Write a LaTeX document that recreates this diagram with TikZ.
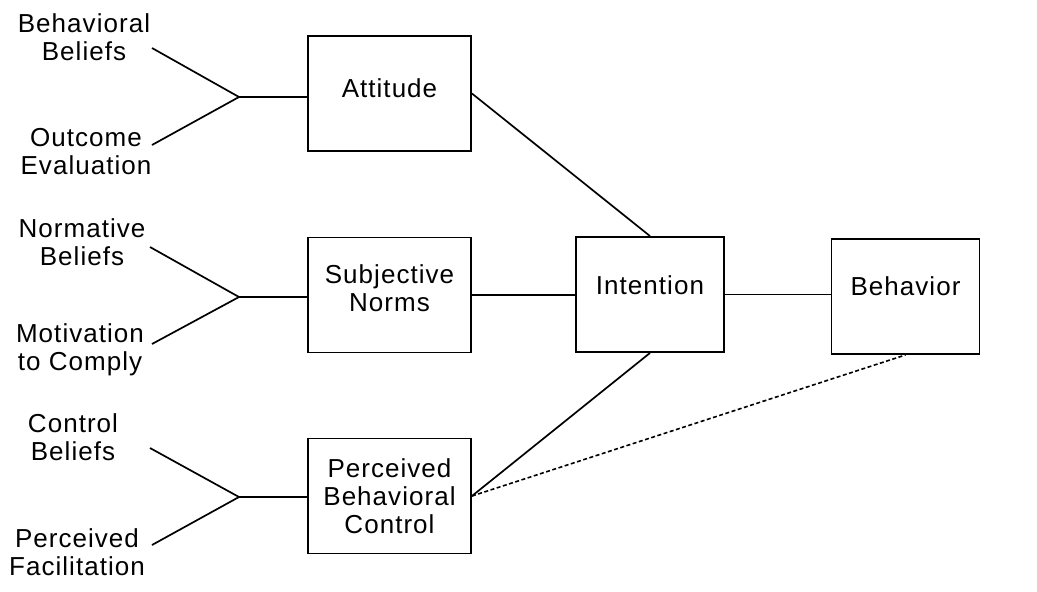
\documentclass[tikz,border=0pt]{standalone}
\usepackage{fontspec}
\setmainfont{Liberation Sans}[LetterSpace=4]

\begin{document}
\begin{tikzpicture}[x=1pt,y=-1pt,
	box/.style={draw, line width=1.9pt, minimum height=115pt, inner sep=0pt},
	wide/.style={box, minimum width=163pt},
	narrow/.style={box, minimum width=148pt},
	lbl/.style={align=center, font=\fontsize{26}{28}\selectfont, inner sep=0pt},
	link/.style={line width=1.7pt},
	dots/.style={line width=1.6pt, dash pattern=on 4pt off 2.5pt}]

	\useasboundingbox (0,0) rectangle (1037,592);

	% boxes
	\node [wide, label={[lbl,yshift=5pt]center:Attitude}] (att) at (389.5,93.5) {};
	\node [wide, label={[lbl,yshift=7pt]center:Subjective\\Norms}] (sn) at (389.5,295) {};
	\node [wide, label={[lbl,yshift=0pt]center:Perceived\\Behavioral\\Control}] (pbc) at (389.5,496) {};
	\node [narrow, label={[lbl,yshift=9pt]center:Intention}] (int) at (650,294.5) {};
	\node [narrow, label={[lbl,yshift=10pt]center:Behavior}] (beh) at (905.5,296.5) {};

	% label
	\node [lbl] (bb) at (84,37) {Behavioral\\Beliefs};
	\node [lbl] (oe) at (86,152) {Outcome\\Evaluation};
	\node [lbl] (nb) at (82,242) {Normative\\Beliefs};
	\node [lbl] (mc) at (80,350) {Motivation\\to Comply};
	\node [lbl] (cb) at (73,437) {Control\\Beliefs};
	\node [lbl] (pf) at (77,552) {Perceived\\Facilitation};

	% ends
	\coordinate (bbe) at (152,48);
	\coordinate (oee) at (152,145);
	\coordinate (nbe) at (150,247);
	\coordinate (mce) at (152,344);
	\coordinate (cbe) at (150,448);
	\coordinate (pfe) at (152,545);
	\coordinate (j1) at (239,97);
	\coordinate (j2) at (239,297);
	\coordinate (j3) at (239,497);

	%>
	\draw [link] (bbe) -- (j1) -- (oee);
	\draw [link] (j1) -- (j1 -| att.west);
	\draw [link] (nbe) -- (j2) -- (mce);
	\draw [link] (j2) -- (j2 -| sn.west);
	\draw [link] (cbe) -- (j3) -- (pfe);
	\draw [link] (j3) -- (j3 -| pbc.west);

	% -
	\draw [link] (att.east) -- (int.north);
	\draw [link] (sn.east) -- (sn.east -| int.west);
	\draw [link] (pbc.east) -- (int.south);
	\draw [link] (int.east) -- (int.east -| beh.west);
	\draw [dots] (pbc.east) -- (beh.south);
\end{tikzpicture}
\end{document}
